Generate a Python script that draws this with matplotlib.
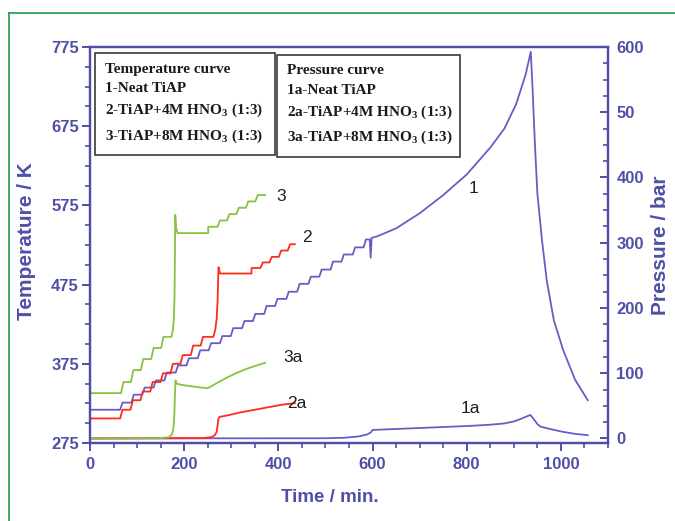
import matplotlib
matplotlib.use('Agg')
import matplotlib.pyplot as plt
import numpy as np
from matplotlib import font_manager
from matplotlib.patches import Rectangle
from matplotlib.lines import Line2D
from matplotlib.ticker import MultipleLocator

# ---- data ----
# curve 1 - neat TiAP, temperature (K): staircase part then smooth part
t1_edges = [0, 64, 88, 111, 135, 158, 182, 205, 229, 252, 276, 299, 323, 346,
            370, 393, 417, 440, 464, 487, 511, 534, 558, 581, 594]
T1_levels = [317, 326, 336, 345, 354, 364, 373, 382, 392, 401, 410, 420, 429,
             438, 448, 457, 466, 476, 485, 494, 504, 513, 522, 532]
t1_rest = [594, 596, 598, 610, 650, 700, 750, 800, 850, 880, 905, 925, 936,
           940, 945, 950, 960, 970, 985, 1005, 1030, 1057]
T1_rest = [532, 509, 534, 536, 546, 565, 588, 614, 648, 672, 703, 740, 769,
           720, 650, 590, 530, 480, 430, 392, 355, 329]

# curve 2 - TiAP + 4M HNO3, temperature (K)
t2_edges = [0, 64, 86, 107, 128, 150, 171, 192, 214, 235, 262]
T2_levels = [306, 317, 329, 340, 352, 363, 375, 386, 398, 409]
t2_jump = [262, 266, 269, 271, 272, 273, 276, 343]
T2_jump = [409, 418, 432, 455, 480, 497, 489, 489]
t2_edges_b = [343, 362, 381, 401, 420, 435]
T2_levels_b = [496, 503, 510, 518, 526]

# curve 3 - TiAP + 8M HNO3, temperature (K)
t3_edges = [0, 66, 87, 108, 130, 151, 173]
T3_levels = [338, 352, 367, 381, 395, 409]
t3_jump = [173, 176, 178, 179.5, 180.5, 181, 183, 186, 251]
T3_jump = [409, 418, 430, 460, 520, 563, 546, 540, 540]
t3_edges_b = [251, 271, 291, 311, 331, 351, 372]
T3_levels_b = [548, 556, 564, 572, 580, 588]

# pressure curves (bar)
t1a = [0, 500, 540, 570, 588, 596, 600, 650, 700, 750, 800, 850, 880, 900,
       915, 925, 935, 942, 950, 957, 980, 1005, 1030, 1057]
P1a = [0, 0.3, 1, 3, 6, 9, 13, 14.5, 16, 17.5, 19, 21, 23, 26, 30, 33, 36,
       30, 22, 18, 14, 10, 7, 5]
t2a = [0, 240, 258, 265, 269, 271, 272.5, 275, 290, 320, 350, 380, 410, 435]
P2a = [0, 0.5, 2, 5, 10, 20, 30, 33, 35, 40, 44, 48, 52, 54]
t3a = [0, 150, 168, 174, 177, 179, 180.5, 181.5, 184, 195, 215, 235, 250,
       270, 290, 310, 330, 350, 372]
P3a = [0, 0.5, 2, 6, 15, 35, 70, 89, 84, 82, 80, 78, 77, 85, 93, 100, 106,
       111, 116]

temp_ticks = [275, 375, 475, 575, 675, 775]
pres_ticks = [0, 100, 200, 300, 400, 500, 600]
pres_labels = ['0', '100', '200', '300', '400', '50', '600']
time_ticks = [0, 200, 400, 600, 800, 1000]

# curve labels: (text, time, value, axis)
curve_labels = [('1', 815, 596, 'T'), ('2', 461, 535, 'T'), ('3', 406, 586, 'T'),
                ('1a', 807, 46, 'P'), ('2a', 439, 54, 'P'), ('3a', 431, 124, 'P')]

legend_temp = ['Temperature curve', '1-Neat TiAP',
               '2-TiAP+4M HNO$_3$ (1:3)', '3-TiAP+8M HNO$_3$ (1:3)']
legend_pres = ['Pressure curve', '1a-Neat TiAP',
               '2a-TiAP+4M HNO$_3$ (1:3)', '3a-TiAP+8M HNO$_3$ (1:3)']


def stairs(edges, levels, rise=5):
    """step curve whose risers lean a little, like the heating programme"""
    edges = np.asarray(edges, float)
    x = np.repeat(edges, 2)[1:-1]
    x[2::2] += rise
    y = np.repeat(np.asarray(levels, float), 2)
    return x, y


names = {f.name for f in font_manager.fontManager.ttflist}
narrow = 'Liberation Sans Narrow' if 'Liberation Sans Narrow' in names else 'Liberation Sans'

plt.rcParams['mathtext.default'] = 'regular'

W, H = 675, 521
axis_col = '#4f4fa8'
blue = '#6a5cc4'
red = '#ff2b1c'
green = '#86c440'


def fx(x):
    return x / W


def fy(y):
    return 1 - y / H


fig = plt.figure(figsize=(W / 100, H / 100), dpi=100)
ax = fig.add_axes([fx(90), fy(443), (608 - 90) / W, (443 - 47) / H])
ax2 = ax.twinx()

lw = 1.3
x, y = stairs(t1_edges, T1_levels)
ax.plot(np.r_[0, x, t1_rest], np.r_[306, y, T1_rest], color=blue, lw=lw)
x, y = stairs(t2_edges, T2_levels)
xb, yb = stairs(t2_edges_b, T2_levels_b)
ax.plot(np.r_[0, x, t2_jump, xb], np.r_[296, y, T2_jump, yb], color=red, lw=lw)
x, y = stairs(t3_edges, T3_levels)
xb, yb = stairs(t3_edges_b, T3_levels_b)
ax.plot(np.r_[0, x, t3_jump, xb], np.r_[300, y, T3_jump, yb], color=green, lw=lw)

ax2.plot(t1a, P1a, color=blue, lw=lw)
ax2.plot(t2a, P2a, color=red, lw=lw)
ax2.plot(t3a, P3a, color=green, lw=lw)

ax.set_xlim(0, 1100)
ax.set_ylim(275, 775)
ax2.set_ylim(-7, 600)

tick_font = dict(family=narrow, weight='bold', size=12, color=axis_col)
ax.set_xticks(time_ticks, [str(v) for v in time_ticks], **tick_font)
ax.set_yticks(temp_ticks, [str(v) for v in temp_ticks], **tick_font)
ax2.set_yticks(pres_ticks, pres_labels, **tick_font)
ax.xaxis.set_minor_locator(MultipleLocator(50))
ax.yaxis.set_minor_locator(MultipleLocator(25))
ax2.yaxis.set_minor_locator(MultipleLocator(25))

for a in (ax, ax2):
    for s in a.spines.values():
        s.set_color(axis_col)
        s.set_linewidth(1.6)
ax.tick_params(axis='both', which='major', direction='out', length=6,
               width=1.4, color=axis_col, pad=2)
ax.tick_params(axis='both', which='minor', direction='out', length=3.5,
               width=1.2, color=axis_col)
ax.tick_params(axis='x', which='major', pad=4)
ax2.tick_params(axis='y', which='major', direction='in', length=6,
                width=1.4, color=axis_col, pad=6)
ax2.tick_params(axis='y', which='minor', direction='in', length=3.5,
                width=1.2, color=axis_col)

for text, t, v, which in curve_labels:
    target = ax if which == 'T' else ax2
    target.text(t, v, text, ha='center', va='center', fontsize=12.5,
                family='Liberation Sans', color='#1e1e1e')

label_font = dict(family='Liberation Sans', weight='bold', color=axis_col)
fig.text(fx(27), fy(241), 'Temperature / K', rotation=90, ha='center',
         va='center', size=15, **label_font)
fig.text(fx(661), fy(245), 'Pressure / bar', rotation=90, ha='center',
         va='center', size=15, **label_font)
fig.text(fx(330), fy(497), 'Time / min.', ha='center', va='center',
         size=13.5, **label_font)

# legend boxes
for (x0, y0, x1, y1) in [(95, 53, 275, 155), (277, 55, 460, 157)]:
    fig.add_artist(Rectangle((fx(x0), fy(y1)), (x1 - x0) / W, (y1 - y0) / H,
                             transform=fig.transFigure, fill=True,
                             facecolor='white', edgecolor='#3a3a3a', lw=1.2))
leg_font = dict(family='Liberation Serif', weight='bold', size=11,
                color='#1a1a1a', va='center', ha='left')
for lines, x0, ys in [(legend_temp, 105, [70, 89, 110, 136]),
                      (legend_pres, 287, [71, 90, 112, 137])]:
    for s, yy in zip(lines, ys):
        fig.text(fx(x0), fy(yy), s, **leg_font)

# green frame of the page
fig.add_artist(Line2D([fx(9), fx(675)], [fy(13), fy(13)],
                      transform=fig.transFigure, color='#1f9a4e', lw=1.2))
fig.add_artist(Line2D([fx(9), fx(9)], [fy(13), fy(521)],
                      transform=fig.transFigure, color='#1f9a4e', lw=1.2))

fig.savefig('out.png', dpi=100)
